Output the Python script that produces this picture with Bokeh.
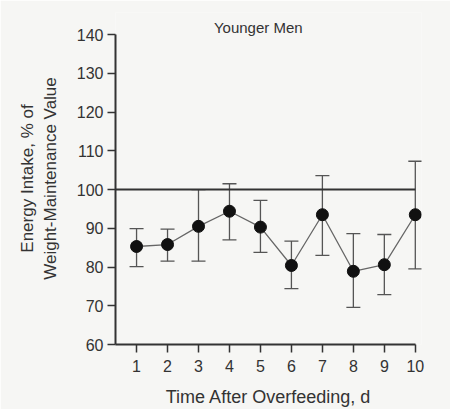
from bokeh.plotting import figure
from bokeh.models import Range1d, FixedTicker, Whisker, TeeHead, ColumnDataSource, Label
from bokeh.embed import file_html
from bokeh.resources import INLINE

days = [1, 2, 3, 4, 5, 6, 7, 8, 9, 10]
intake = [85.3, 85.8, 90.5, 94.4, 90.3, 80.4, 93.5, 78.9, 80.6, 93.5]
upper = [89.9, 89.8, 100.0, 101.5, 97.2, 86.7, 103.6, 88.6, 88.4, 107.3]
lower = [80.1, 81.5, 81.5, 87.0, 83.8, 74.4, 83.0, 69.6, 72.9, 79.5]
y_ticks = [60, 70, 80, 90, 100, 110, 120, 130, 140]
reference_value = 100

FONT = "Liberation Sans"
BG = "#f6f6f4"
INK = "#333333"

src = ColumnDataSource(dict(day=days, v=intake, up=upper, lo=lower))

p = figure(width=450, height=409, output_backend="svg", toolbar_location=None,
           x_range=Range1d(0.32, 10.2), y_range=Range1d(60, 145.7),
           min_border_left=115, min_border_right=29, min_border_top=12, min_border_bottom=65)
p.background_fill_color = BG
p.border_fill_color = BG
p.outline_line_color = None
p.xgrid.visible = False
p.ygrid.visible = False

# axes
p.xaxis.ticker = FixedTicker(ticks=days)
p.yaxis.ticker = FixedTicker(ticks=y_ticks)
p.xaxis.bounds = (0.32, 10)
p.yaxis.bounds = (60, 140)
for ax in (p.xaxis[0], p.yaxis[0]):
    ax.axis_line_color = INK
    ax.axis_line_width = 2
    ax.major_tick_line_color = INK
    ax.major_tick_line_width = 1.5
    ax.major_tick_out = 8
    ax.major_tick_in = 0
    ax.minor_tick_line_color = None
    ax.major_label_text_font = FONT
    ax.major_label_text_font_size = "16px"
    ax.major_label_text_color = INK
    ax.axis_label_text_font = FONT
    ax.axis_label_text_font_style = "normal"
    ax.axis_label_text_color = INK
p.xaxis.axis_label = "Time After Overfeeding, d"
p.yaxis.axis_label = "Energy Intake, % of\nWeight-Maintenance Value"
p.xaxis.axis_label_text_font_size = "18px"
p.yaxis.axis_label_text_font_size = "17px"
p.xaxis.major_label_standoff = 7
p.yaxis.major_label_standoff = 4
p.xaxis.axis_label_standoff = 12
p.yaxis.axis_label_standoff = 14

# reference line at 100 %
p.line(x=[0.32, days[-1]], y=[reference_value, reference_value], line_color=INK, line_width=2)

# error bars
p.add_layout(Whisker(source=src, base="day", upper="up", lower="lo",
                     line_color="#555555", line_width=1.3,
                     upper_head=TeeHead(size=14, line_color="#555555", line_width=1.3),
                     lower_head=TeeHead(size=14, line_color="#555555", line_width=1.3)))

p.line("day", "v", source=src, line_color="#666666", line_width=1.3)
p.scatter("day", "v", source=src, size=12, fill_color="#111111", line_color="#111111")

p.add_layout(Label(x=4.93, y=141.8, text="Younger Men", text_font=FONT, text_font_size="15px",
                   text_color=INK, text_align="center", text_baseline="middle"))

open("out.html", "w").write(file_html(p, INLINE))
